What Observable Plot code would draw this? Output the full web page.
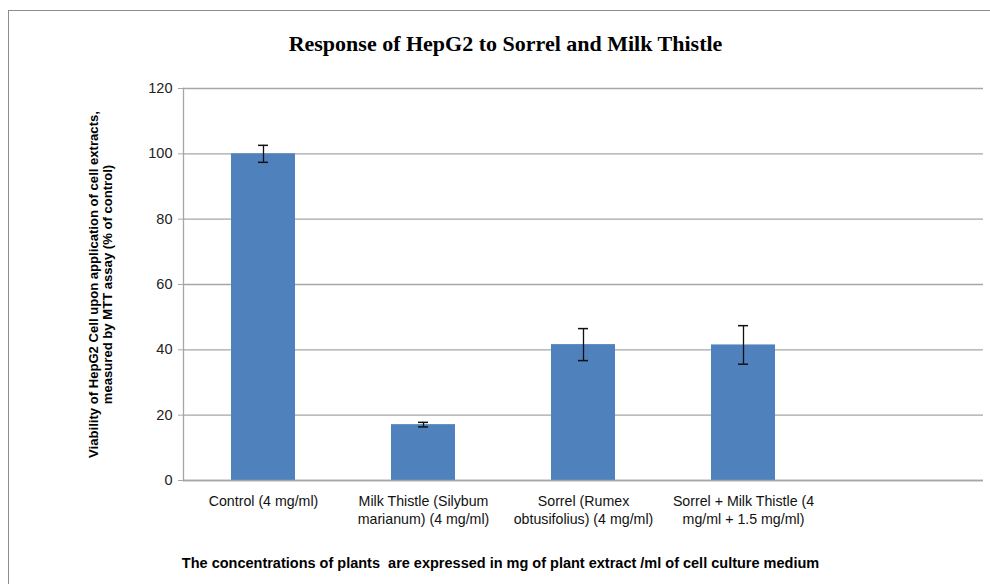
<!DOCTYPE html>
<html>
<head>
<meta charset="utf-8">
<script src="https://cdn.jsdelivr.net/npm/d3@7"></script>
<script src="https://cdn.jsdelivr.net/npm/@observablehq/plot@0.6"></script>
<style>
  html, body { margin: 0; padding: 0; background: #fff; overflow: hidden; }
  #wrap { position: relative; width: 990px; height: 584px; }
  #border { position: absolute; left: 8px; top: 10px; width: 1010px; height: 600px; border: 1.5px solid #8c8c8c; }
  #chart { position: absolute; left: 0; top: 0; }
</style>
</head>
<body>
<div id="wrap"><div id="border"></div><div id="chart"></div></div>
<script>
const title = "Response of HepG2 to Sorrel and Milk Thistle";
const yTitle = "Viability of HepG2 Cell upon application of cell extracts,\nmeasured by MTT assay (% of control)";
const xTitle = "The concentrations of plants  are expressed in mg of plant extract /ml of cell culture medium";
const categories = ["Control", "Milk Thistle", "Sorrel", "Sorrel + Milk Thistle", "(empty)"];
const tickLabels = ["Control (4 mg/ml)", "Milk Thistle (Silybum\nmarianum) (4 mg/ml)", "Sorrel (Rumex\nobtusifolius) (4 mg/ml)", "Sorrel + Milk Thistle (4\nmg/ml + 1.5 mg/ml)", ""];
const values = [100, 17.1, 41.6, 41.5];
const errors = [2.6, 0.7, 4.9, 5.9];
const yTicks = [0, 20, 40, 60, 80, 100, 120];

const data = values.map((v, i) => ({cat: categories[i], v, lo: v - errors[i], hi: v + errors[i]}));
const labelOf = new Map(categories.map((c, i) => [c, tickLabels[i]]));

const font = "'Liberation Sans', Arial, sans-serif";
const grid = "#a6a6a6";

const chart = Plot.plot({
  width: 990,
  height: 584,
  marginLeft: 183,
  marginRight: 7,
  marginTop: 88,
  marginBottom: 104,
  style: {fontFamily: font, background: "transparent"},
  x: {domain: categories, paddingInner: 0.6, paddingOuter: 0.3},
  y: {domain: [0, 120]},
  marks: [
    Plot.gridY(yTicks, {stroke: grid, strokeOpacity: 1, strokeWidth: 1.3}),
    Plot.frame({anchor: "left", stroke: grid, strokeWidth: 1.3}),
    Plot.axisY(yTicks, {tickSize: 5, tickPadding: 6, stroke: grid, fontSize: 14.5, fill: "#222", label: null}),
    Plot.axisX({tickSize: 0, tickPadding: 12, fontSize: 14.2, fill: "#111", lineHeight: 1.3, tickFormat: d => labelOf.get(d), label: null, textAnchor: "middle"}),
    Plot.barY(data, {x: "cat", y: "v", fill: "#4f81bd"}),
    Plot.ruleY([0], {stroke: grid, strokeWidth: 1.3}),
    Plot.ruleX(data, {x: "cat", y1: "lo", y2: "hi", stroke: "#111", strokeWidth: 1.3}),
    Plot.tickY(data, {x: "cat", y: "lo", stroke: "#111", strokeWidth: 1.5, insetLeft: 27, insetRight: 27}),
    Plot.tickY(data, {x: "cat", y: "hi", stroke: "#111", strokeWidth: 1.5, insetLeft: 27, insetRight: 27}),
    Plot.text([title], {text: d => d, frameAnchor: "top", dx: -78, dy: -45, fontFamily: "'Liberation Serif', 'Times New Roman', serif", fontWeight: "bold", fontSize: 22, fill: "#000", lineAnchor: "middle"}),
    Plot.text([yTitle], {text: d => d, frameAnchor: "left", dx: -83, rotate: -90, fontWeight: "bold", fontSize: 13.1, lineHeight: 1.1, fill: "#000", lineAnchor: "middle", textAnchor: "middle"}),
    Plot.text([xTitle], {text: d => d, frameAnchor: "bottom", dx: -83, dy: 83, fontWeight: "bold", fontSize: 14.5, fill: "#000", lineAnchor: "middle"})
  ]
});
document.getElementById("chart").appendChild(chart);
</script>
</body>
</html>
